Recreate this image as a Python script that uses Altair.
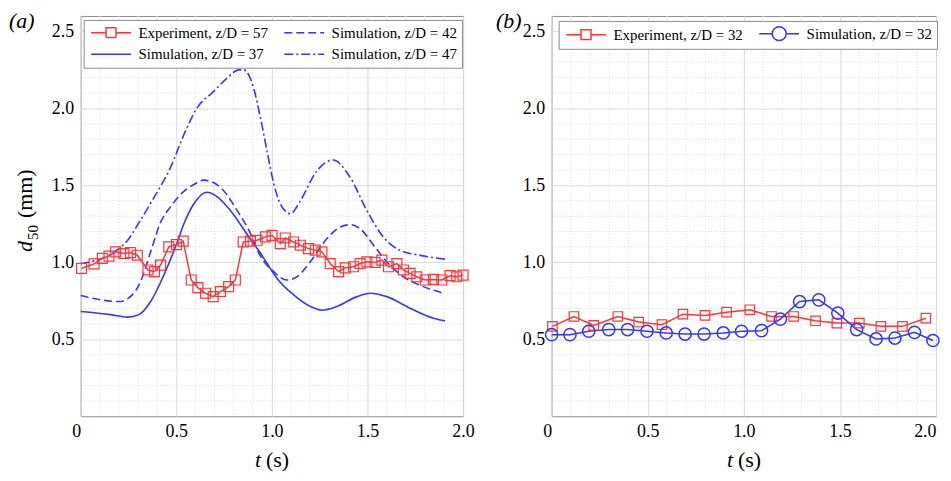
import altair as alt
import pandas as pd

# ---------------- data: panel (a) ----------------
exp57_t = [0.004, 0.07, 0.113, 0.148, 0.183, 0.226, 0.261, 0.296, 0.352, 0.386, 0.418, 0.461,
           0.501, 0.536, 0.578, 0.613, 0.653, 0.693, 0.731, 0.774, 0.809, 0.85, 0.888, 0.923,
           0.966, 1.001, 1.044, 1.07, 1.114, 1.149, 1.192, 1.227, 1.262, 1.305, 1.349, 1.384,
           1.427, 1.462, 1.497, 1.54, 1.575, 1.61, 1.654, 1.688, 1.723, 1.758, 1.802, 1.845,
           1.889, 1.932, 1.967, 2.0]
exp57_v = [0.96, 0.99, 1.025, 1.04, 1.068, 1.057, 1.063, 1.046, 0.95, 0.939, 0.982, 1.10,
           1.115, 1.137, 0.885, 0.835, 0.799, 0.777, 0.81, 0.842, 0.885, 1.132, 1.137, 1.143,
           1.165, 1.175, 1.121, 1.158, 1.132, 1.111, 1.089, 1.079, 1.068, 0.992, 0.939, 0.964,
           0.971, 0.992, 1.003, 0.999, 1.014, 0.971, 0.992, 0.95, 0.928, 0.906, 0.885, 0.889,
           0.885, 0.913, 0.906, 0.917]

sim37_t = [0.0, 0.157, 0.244, 0.305, 0.366, 0.435, 0.505, 0.54, 0.592, 0.66, 0.704, 0.783,
           0.88, 0.94, 1.027, 1.114, 1.201, 1.262, 1.34, 1.445, 1.514, 1.601, 1.723, 1.845, 1.906]
sim37_v = [0.68, 0.66, 0.644, 0.66, 0.745, 0.917, 1.13, 1.25, 1.38, 1.455, 1.435, 1.337,
           1.164, 1.06, 0.895, 0.788, 0.713, 0.689, 0.713, 0.777, 0.799, 0.777, 0.702, 0.637, 0.62]

sim42_t = [0.0, 0.104, 0.2, 0.27, 0.313, 0.366, 0.418, 0.47, 0.522, 0.599, 0.644, 0.731, 0.818,
           0.88, 0.94, 1.01, 1.079, 1.131, 1.201, 1.288, 1.358, 1.41, 1.462, 1.532, 1.601,
           1.688, 1.793, 1.902]
sim42_v = [0.784, 0.756, 0.745, 0.788, 0.874, 1.068, 1.26, 1.36, 1.44, 1.51, 1.534, 1.487, 1.337,
           1.207, 1.04, 0.939, 0.885, 0.906, 1.003, 1.154, 1.229, 1.244, 1.218, 1.111, 1.003,
           0.906, 0.842, 0.799]

sim47_t = [0.0, 0.19, 0.25, 0.296, 0.383, 0.47, 0.54, 0.609, 0.696, 0.766, 0.827, 0.853, 0.905,
           0.94, 0.975, 1.01, 1.044, 1.097, 1.149, 1.236, 1.32, 1.408, 1.496, 1.583, 1.671,
           1.777, 1.91]
sim47_v = [0.99, 1.08, 1.15, 1.24, 1.42, 1.616, 1.83, 2.003, 2.11, 2.197, 2.25, 2.25, 2.13,
           1.94, 1.72, 1.51, 1.38, 1.315, 1.40, 1.595, 1.664, 1.555, 1.338, 1.164, 1.077,
           1.045, 1.02]

# ---------------- data: panel (b) ----------------
exp32_t = [0.004, 0.116, 0.219, 0.344, 0.453, 0.574, 0.683, 0.798, 0.91, 1.031, 1.144, 1.259,
           1.373, 1.484, 1.601, 1.713, 1.825, 1.947]
exp32_v = [0.584, 0.648, 0.59, 0.648, 0.612, 0.595, 0.663, 0.655, 0.676, 0.692, 0.648, 0.648,
           0.62, 0.605, 0.605, 0.584, 0.584, 0.637]

sim32_t = [0.0, 0.095, 0.193, 0.297, 0.395, 0.496, 0.596, 0.694, 0.793, 0.893, 0.988, 1.092,
           1.19, 1.29, 1.39, 1.489, 1.587, 1.688, 1.786, 1.888, 1.984]
sim32_v = [0.53, 0.53, 0.552, 0.563, 0.563, 0.552, 0.541, 0.534, 0.534, 0.541, 0.552, 0.556,
           0.631, 0.745, 0.756, 0.67, 0.563, 0.502, 0.508, 0.545, 0.492]

x_ticks = [0, 0.5, 1.0, 1.5, 2.0]
y_ticks = [0.5, 1.0, 1.5, 2.0, 2.5]
minor_x = [round(0.1 * i, 1) for i in range(1, 20) if i % 5]
minor_y = [round(0.1 * i, 1) for i in range(1, 26) if i % 5]

E57 = "Experiment, z/D = 57"
S42 = "Simulation, z/D = 42"
S37 = "Simulation, z/D = 37"
S47 = "Simulation, z/D = 47"
E32 = "Experiment, z/D = 32"
S32 = "Simulation, z/D = 32"

# ---------------- styling ----------------
FONT = "Liberation Serif"
RED = "#ff3535"
BLUE = "#3535ff"
GRID = "#dadada"
W_A, W_B, H = 384, 386, 402
DASH_42 = [8, 4]
DASH_47 = [9, 3, 2, 3]

# legend glyphs (custom paths: line, line + square, line + circle)
LN = "M-4,0H4"
SQ = "M-4,0H-1M1,0H4M-1,-1H1V1H-1Z"
CI = "M-4,0H-1.4M1.4,0H4M1.4,0A1.4,1.4,0,1,1,-1.4,0A1.4,1.4,0,1,1,1.4,0"


def frame(name, ts, vs):
    return pd.DataFrame({"t": ts, "v": vs, "series": name})


xscale = alt.Scale(domain=[0, 2], nice=False, zero=False)
yscale = alt.Scale(domain=[0, 2.6], nice=False, zero=False)


def xaxis(last_right):
    cond = "datum.value == 0" + (" || datum.value == 2" if last_right else "")
    return alt.Axis(values=x_ticks, grid=True, gridColor=GRID, ticks=False, domain=False,
                    labelExpr="datum.value == 0 ? '0' : format(datum.value, '.1f')",
                    labelFont=FONT, labelFontSize=18, labelColor="black", labelPadding=6,
                    labelAlign={"condition": {"test": cond, "value": "right"}, "value": "center"},
                    title=None)


yaxis = alt.Axis(values=y_ticks, grid=True, gridColor=GRID, ticks=False, domain=False,
                 format=".1f", labelFont=FONT, labelFontSize=18, labelColor="black",
                 labelPadding=7, title=None)


def make_legend(lx, ly):
    return alt.Legend(
        title=None, orient="none", legendX=lx, legendY=ly, columns=2,
        fillColor="white", strokeColor="#8c8c8c", padding=5,
        labelFont=FONT, labelFontSize=15, labelColor="black", labelLimit=400,
        symbolSize=100, symbolStrokeWidth=1.5, symbolOffset=15, labelOffset=20,
        symbolFillColor="transparent",
        rowPadding=6, columnPadding=12)


def txt(text, x, y, size=22, style="normal", angle=0, align="left", baseline="alphabetic"):
    return alt.Chart(pd.DataFrame({"d": [0]})).mark_text(
        text=text, font=FONT, fontSize=size, fontStyle=style, angle=angle,
        align=align, baseline=baseline, color="black"
    ).encode(x=alt.value(x), y=alt.value(y))


def grid_layers(xax):
    gx = alt.Chart(pd.DataFrame({"t": minor_x})).mark_rule(
        color=GRID, strokeDash=[1, 2], strokeWidth=1
    ).encode(x=alt.X("t:Q", scale=xscale, axis=xax))
    gy = alt.Chart(pd.DataFrame({"v": minor_y})).mark_rule(
        color=GRID, strokeDash=[1, 2], strokeWidth=1
    ).encode(y=alt.Y("v:Q", scale=yscale, axis=yaxis))
    return [gx, gy]


enc_y = alt.Y("v:Q", scale=yscale, axis=yaxis)

# ---------------- panel (a) ----------------
xa = xaxis(False)
enc_xa = alt.X("t:Q", scale=xscale, axis=xa)
# legend fills column by column: this order gives rows (E57, S42) and (S37, S47)
dom_a = [E57, S37, S42, S47]
leg_a = make_legend(3, 4)
sc_col_a = alt.Scale(domain=dom_a, range=[RED, BLUE, BLUE, BLUE])
sc_dash_a = alt.Scale(domain=dom_a, range=[[1, 0], [1, 0], DASH_42, DASH_47])
sc_shape_a = alt.Scale(domain=dom_a, range=[SQ, LN, LN, LN])

s37 = frame(S37, sim37_t, sim37_v)
s42 = frame(S42, sim42_t, sim42_v)
s47 = frame(S47, sim47_t, sim47_v)
exp_a = frame(E57, exp57_t, exp57_v)


def sim_line(df, dash, xenc):
    kw = {"strokeDash": dash} if dash else {}
    return alt.Chart(df).mark_line(strokeWidth=1.6, interpolate="monotone", color=BLUE, **kw
                                   ).encode(x=xenc, y=enc_y)


exp_line_a = alt.Chart(exp_a).mark_line(strokeWidth=1.5, color=RED).encode(x=enc_xa, y=enc_y)
exp_pts_a = alt.Chart(exp_a).mark_point(shape="square", filled=False, size=100, strokeWidth=1.2,
                                        color=RED, opacity=1).encode(x=enc_xa, y=enc_y)
# legend-only layer (all rows filtered out; the legend comes from the scale domains)
key_a = alt.Chart(pd.concat([exp_a, s42, s37, s47])).transform_filter("false").mark_point(
    filled=False, size=100, strokeWidth=1.5, opacity=1
).encode(x=enc_xa, y=enc_y,
         color=alt.Color("series:N", scale=sc_col_a, legend=leg_a),
         strokeDash=alt.StrokeDash("series:N", scale=sc_dash_a, legend=leg_a),
         shape=alt.Shape("series:N", scale=sc_shape_a, legend=leg_a))

panel_a = alt.layer(
    *grid_layers(xa),
    sim_line(s37, None, enc_xa), sim_line(s42, DASH_42, enc_xa), sim_line(s47, DASH_47, enc_xa),
    exp_line_a, exp_pts_a, key_a,
    txt("(a)", -72, -5, size=22, style="italic", baseline="top"),
    txt("d", -49, 237, size=22, style="italic", angle=270),
    txt("50", -43, 225, size=15, angle=270),
    txt("(mm)", -49, 203, size=22, angle=270),
    txt("t", W_A / 2 - 17, 453, size=22, style="italic"),
    txt("(s)", W_A / 2 - 6, 453, size=22),
).properties(width=W_A, height=H)

# ---------------- panel (b) ----------------
xb = xaxis(True)
enc_xb = alt.X("t:Q", scale=xscale, axis=xb)
dom_b = [E32, S32]
leg_b = make_legend(7, 5)
sc_col_b = alt.Scale(domain=dom_b, range=[RED, BLUE])
sc_shape_b = alt.Scale(domain=dom_b, range=[SQ, CI])

exp_b = frame(E32, exp32_t, exp32_v)
sim_b = frame(S32, sim32_t, sim32_v)

exp_line_b = alt.Chart(exp_b).mark_line(strokeWidth=1.5, color=RED).encode(x=enc_xb, y=enc_y)
sim_line_b = alt.Chart(sim_b).mark_line(strokeWidth=1.5, color=BLUE).encode(x=enc_xb, y=enc_y)
exp_pts_b = alt.Chart(exp_b).mark_point(shape="square", filled=False, size=90, strokeWidth=1.2,
                                        color=RED, opacity=1).encode(x=enc_xb, y=enc_y)
sim_pts_b = alt.Chart(sim_b).mark_point(shape="circle", filled=False, size=150, strokeWidth=1.5,
                                        color=BLUE, opacity=1).encode(x=enc_xb, y=enc_y)
key_b = alt.Chart(pd.concat([exp_b, sim_b])).transform_filter("false").mark_point(
    filled=False, size=100, strokeWidth=1.5, opacity=1
).encode(x=enc_xb, y=enc_y,
         color=alt.Color("series:N", scale=sc_col_b, legend=leg_b),
         shape=alt.Shape("series:N", scale=sc_shape_b, legend=leg_b))

panel_b = alt.layer(
    *grid_layers(xb), exp_line_b, sim_line_b, exp_pts_b, sim_pts_b, key_b,
    txt("(b)", -56, -5, size=22, style="italic", baseline="top"),
    txt("t", W_B / 2 - 17, 453, size=22, style="italic"),
    txt("(s)", W_B / 2 - 6, 453, size=22),
).properties(width=W_B, height=H)

chart = alt.hconcat(panel_a, panel_b, spacing=20).resolve_scale(
    color="independent", shape="independent", strokeDash="independent"
).resolve_legend(
    color="independent", shape="independent", strokeDash="independent"
).properties(padding=0).configure(
    font=FONT
).configure_axis(labelFont=FONT).configure_legend(labelFont=FONT).configure_view(
    stroke="#8c8c8c", strokeWidth=1)

chart.save("out.html", embed_options={"renderer": "svg", "actions": False})
